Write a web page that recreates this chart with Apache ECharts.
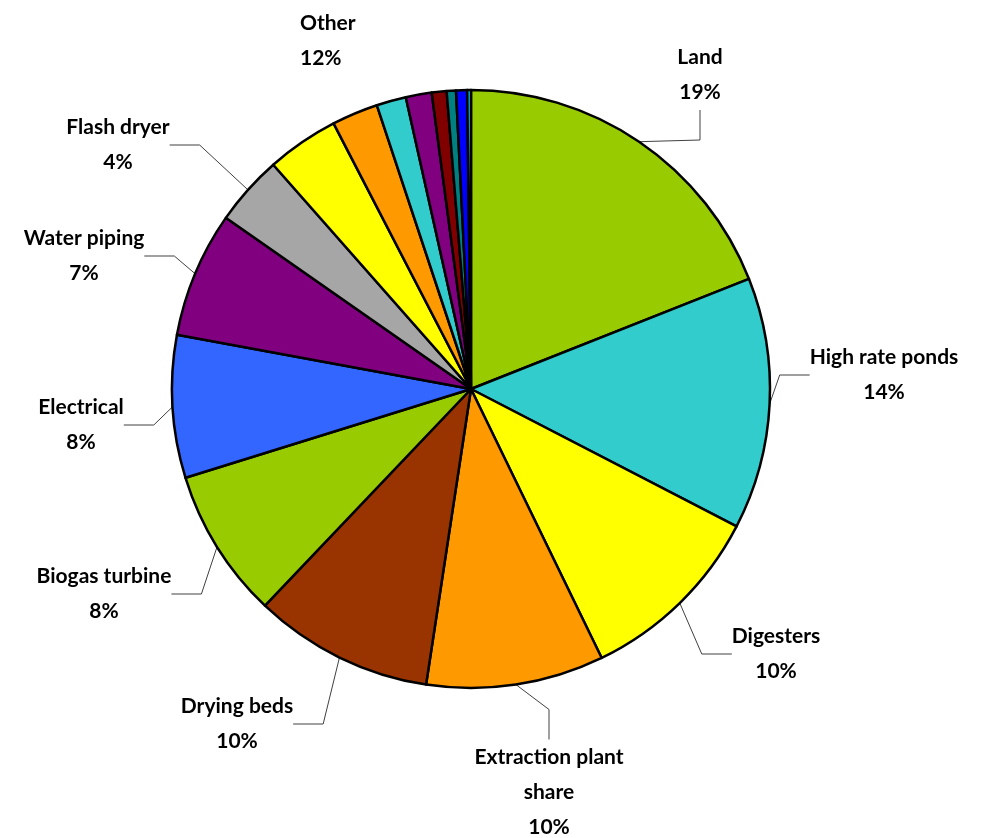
<!DOCTYPE html>
<html>
<head>
<meta charset="utf-8">
<script src="https://cdn.jsdelivr.net/npm/echarts@6/dist/echarts.min.js"></script>
<style>
  html, body { margin: 0; padding: 0; background: #fff; }
  #chart { width: 992px; height: 838px; }
</style>
</head>
<body>
<div id="chart"></div>
<script>
// slice names, clockwise from 12 o'clock
const categories = ['Land', 'High rate ponds', 'Digesters', 'Extraction plant\nshare', 'Drying beds',
  'Biogas turbine', 'Electrical', 'Water piping', 'Flash dryer',
  'Other 1', 'Other 2', 'Other 3', 'Other 4', 'Other 5', 'Other 6', 'Other 7', 'Other 8'];
// share of cost, %
const values = [19.0, 13.6, 10.2, 9.6, 9.7, 8.1, 7.7, 6.8, 3.8,
  3.9, 2.5, 1.6, 1.4, 0.8, 0.5, 0.6, 0.2];
// how many of the first slices get their own label, the rest form "Other"
const labelledCount = 9;

const colors = ['#99CC00', '#33CCCC', '#FFFF00', '#FF9900', '#993300', '#99CC00', '#3366FF', '#800080', '#A6A6A6',
  '#FFFF00', '#FF9900', '#33CCCC', '#800080', '#800000', '#008080', '#0000FF', '#00CCFF'];

// label centres (px), picked to match the original placement
const labelPos = [[700, 75], [884, 375], [776, 654], [549, 792], [237, 724],
  [104, 594], [81, 425], [84, 256], [118, 145]];

const total = values.reduce((a, b) => a + b, 0);
const otherPct = Math.round(values.slice(labelledCount).reduce((a, b) => a + b, 0) / total * 100);

const myChart = echarts.init(document.getElementById('chart'));
myChart.setOption({
  backgroundColor: '#fff',
  animation: false,
  textStyle: { fontFamily: 'Lato' },
  series: [{
    type: 'pie',
    center: [471, 389],
    radius: 299,
    startAngle: 90,
    clockwise: true,
    avoidLabelOverlap: false,
    itemStyle: { borderColor: '#000', borderWidth: 2.5 },
    label: {
      show: true,
      position: 'outside',
      formatter: (p) => p.name + '\n' + Math.round(p.percent) + '%',
      fontFamily: 'Lato',
      fontWeight: 'bold',
      fontSize: 21,
      lineHeight: 35,
      color: '#000',
      align: 'center'
    },
    labelLine: {
      show: true,
      lineStyle: { color: '#404040', width: 1 }
    },
    labelLayout: (p) => {
      const pos = labelPos[p.dataIndex];
      if (!pos) return {};
      return { x: pos[0], y: pos[1], align: 'center', verticalAlign: 'middle' };
    },
    data: categories.map((name, i) => ({
      name: name,
      value: values[i],
      itemStyle: { color: colors[i] },
      label: { show: i < labelledCount },
      labelLine: { show: i < labelledCount }
    }))
  }],
  graphic: [{
    type: 'text',
    left: 330 - 30,
    top: 6,
    style: {
      text: 'Other\n' + otherPct + '%',
      font: 'bold 21px Lato',
      fontFamily: 'Lato',
      fontWeight: 'bold',
      fontSize: 21,
      lineHeight: 35,
      fill: '#000',
      align: 'center',
      width: 60
    }
  }]
});
</script>
</body>
</html>
